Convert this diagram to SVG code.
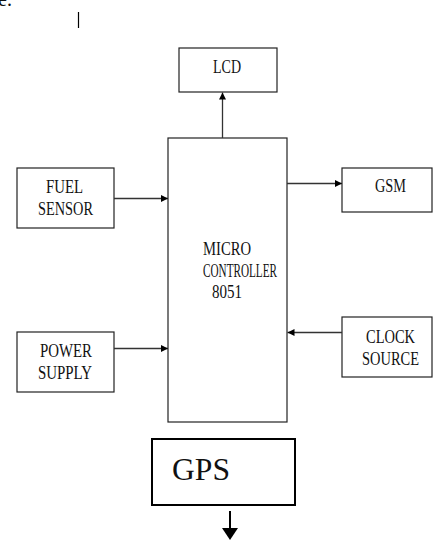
<svg xmlns="http://www.w3.org/2000/svg" width="435" height="540" viewBox="0 0 435 540">
<style>
.box{fill:#fff;stroke:#222;stroke-width:1.2}
.gps{fill:#fff;stroke:#000;stroke-width:2}
.t{font-family:"Liberation Serif","Times New Roman",serif;fill:#111;text-anchor:start}
.c{stroke:#333;stroke-width:1.3;fill:none}
</style>
<defs>
<marker id="ah" markerWidth="8" markerHeight="8" refX="7" refY="3.5" orient="auto" markerUnits="userSpaceOnUse">
<path d="M0,0 L7,3.5 L0,7 Z" fill="#000"/>
</marker>
</defs>
<text class="t" x="-2" y="6" font-size="20">e.</text>
<line x1="78.5" y1="12" x2="78.5" y2="28" stroke="#000" stroke-width="1.2"/>
<g id="lcd">
<rect class="box" x="179" y="48" width="98" height="44"/>
<text class="t" x="213" y="73" font-size="19" textLength="28" lengthAdjust="spacingAndGlyphs">LCD</text>
</g>
<g id="mc">
<rect class="box" x="168" y="138" width="119" height="284"/>
<text class="t" x="203" y="255" font-size="19.5" textLength="48" lengthAdjust="spacingAndGlyphs">MICRO</text>
<text class="t" x="203" y="277" font-size="19.5" textLength="74" lengthAdjust="spacingAndGlyphs">CONTROLLER</text>
<text class="t" x="212" y="298" font-size="19.5" textLength="30" lengthAdjust="spacingAndGlyphs">8051</text>
</g>
<g id="fuel">
<rect class="box" x="17" y="168" width="97" height="60"/>
<text class="t" x="46" y="193" font-size="18" textLength="37" lengthAdjust="spacingAndGlyphs">FUEL</text>
<text class="t" x="38" y="215" font-size="18" textLength="55" lengthAdjust="spacingAndGlyphs">SENSOR</text>
</g>
<g id="power">
<rect class="box" x="17" y="332" width="97" height="60"/>
<text class="t" x="40" y="357" font-size="18" textLength="52" lengthAdjust="spacingAndGlyphs">POWER</text>
<text class="t" x="38" y="379" font-size="18" textLength="54" lengthAdjust="spacingAndGlyphs">SUPPLY</text>
</g>
<g id="gsm">
<rect class="box" x="342" y="168" width="90" height="44"/>
<text class="t" x="375" y="192" font-size="19" textLength="31" lengthAdjust="spacingAndGlyphs">GSM</text>
</g>
<g id="clock">
<rect class="box" x="342" y="317" width="90" height="60"/>
<text class="t" x="366" y="343" font-size="18" textLength="49" lengthAdjust="spacingAndGlyphs">CLOCK</text>
<text class="t" x="362" y="365" font-size="18" textLength="57" lengthAdjust="spacingAndGlyphs">SOURCE</text>
</g>
<g id="gps">
<rect class="gps" x="152" y="439" width="143" height="66"/>
<text class="t" x="172" y="480" font-size="32" textLength="58" lengthAdjust="spacingAndGlyphs">GPS</text>
</g>
<g id="connectors">
<line class="c" x1="222.5" y1="138" x2="222.5" y2="92.5" marker-end="url(#ah)"/>
<line class="c" x1="114" y1="198.5" x2="168" y2="198.5" marker-end="url(#ah)"/>
<line class="c" x1="114" y1="348.5" x2="168" y2="348.5" marker-end="url(#ah)"/>
<line class="c" x1="287" y1="183.5" x2="342" y2="183.5" marker-end="url(#ah)"/>
<line class="c" x1="342" y1="332.5" x2="287.5" y2="332.5" marker-end="url(#ah)"/>
<line x1="230" y1="511" x2="230" y2="529" stroke="#000" stroke-width="2"/>
<path d="M222,528 L238,528 L230,540 Z" fill="#000"/>
</g>
</svg>
